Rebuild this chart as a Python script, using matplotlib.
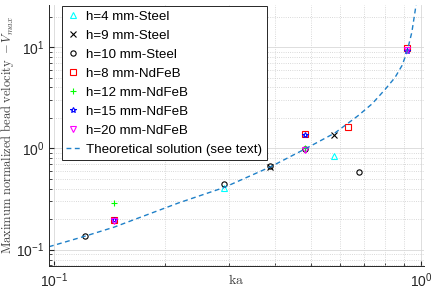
import numpy as np
import matplotlib
matplotlib.use('Agg')
import matplotlib.pyplot as plt

plt.rcParams['font.family'] = ['Liberation Sans', 'DejaVu Sans']
plt.rcParams['mathtext.fontset'] = 'cm'

# ---------------------------------------------------------------------
# measured points (read off the figure)
# ---------------------------------------------------------------------
ka_h4_steel = [0.290, 0.581]
v_h4_steel = [0.406, 0.843]

ka_h9_steel = [0.388, 0.581]
v_h9_steel = [0.660, 1.36]

ka_h10_steel = [0.1213, 0.290, 0.388, 0.483, 0.680]
v_h10_steel = [0.136, 0.445, 0.665, 0.985, 0.585]

ka_h8_ndfeb = [0.1456, 0.483, 0.634, 0.917]
v_h8_ndfeb = [0.196, 1.38, 1.62, 9.8]

ka_h12_ndfeb = [0.1456, 0.483, 0.917]
v_h12_ndfeb = [0.289, 1.00, 9.4]

ka_h15_ndfeb = [0.1456, 0.483, 0.917]
v_h15_ndfeb = [0.196, 1.36, 9.1]

ka_h20_ndfeb = [0.1456, 0.483, 0.917]
v_h20_ndfeb = [0.190, 0.97, 9.3]

# theoretical curve
ka_theory = [0.0967, 0.1213, 0.1456, 0.218, 0.290, 0.388, 0.483, 0.583,
             0.674, 0.736, 0.798, 0.850, 0.889, 0.917, 0.945, 0.971]
v_theory = [0.107, 0.136, 0.167, 0.289, 0.410, 0.655, 0.986, 1.42,
            2.10, 2.75, 3.80, 5.0, 6.6, 9.0, 14.0, 26.5]

series = [
    ('h=4 mm-Steel', ka_h4_steel, v_h4_steel, '^', (0, 1, 1)),
    ('h=9 mm-Steel', ka_h9_steel, v_h9_steel, 'x', 'k'),
    ('h=10 mm-Steel', ka_h10_steel, v_h10_steel, 'o', 'k'),
    ('h=8 mm-NdFeB', ka_h8_ndfeb, v_h8_ndfeb, 's', (1, 0, 0)),
    ('h=12 mm-NdFeB', ka_h12_ndfeb, v_h12_ndfeb, '+', (0, 1, 0)),
    ('h=15 mm-NdFeB', ka_h15_ndfeb, v_h15_ndfeb, '*', (0, 0, 1)),
    ('h=20 mm-NdFeB', ka_h20_ndfeb, v_h20_ndfeb, 'v', (1, 0, 1)),
]

fig = plt.figure(figsize=(4.36, 2.99), dpi=100)
ax = fig.add_axes([49 / 436, 1 - 265.7 / 299, 375 / 436, 261.2 / 299])

for label, x, y, m, c in series:
    ax.plot(x, y, linestyle='none', marker=m, markersize=3.8, markeredgewidth=0.8,
            markerfacecolor='none', color=c, label=label)

ax.plot(ka_theory, v_theory, linestyle=(0, (3.5, 2.5)), linewidth=1.0,
        color='#1f80c8', label='Theoretical solution (see text)')

ax.set_xscale('log')
ax.set_yscale('log')
ax.set_xlim(0.0967, 1.02)
ax.set_ylim(0.0695, 26.3)

ax.grid(True, which='major', color='#d8d8d8', linewidth=0.6, linestyle='-')
ax.grid(True, which='minor', color='#cccccc', linewidth=0.6, linestyle=':')
ax.set_axisbelow(True)

for s in ('top', 'right'):
    ax.spines[s].set_visible(False)
for s in ('left', 'bottom'):
    ax.spines[s].set_color('#262626')
    ax.spines[s].set_linewidth(0.7)

ax.tick_params(which='both', direction='in', colors='#262626', labelsize=10)
ax.tick_params(which='major', length=3.5)
ax.tick_params(which='minor', length=2)
ax.tick_params(axis='x', pad=4)
ax.yaxis.set_minor_formatter(matplotlib.ticker.NullFormatter())
ax.xaxis.set_minor_formatter(matplotlib.ticker.NullFormatter())

ax.set_xlabel(r'$\mathrm{ka}$', fontsize=10, color='#404040', labelpad=-12)
ax.set_ylabel(r'$\mathrm{Maximum\ normalized\ bead\ velocity\ -}V_{max}$',
              fontsize=9.0, color='#404040', labelpad=0)

leg = ax.legend(loc='upper left', bbox_to_anchor=(0.03, 1.0), fontsize=9.6,
                frameon=True, fancybox=False, framealpha=1, edgecolor='#262626',
                handlelength=1.0, handletextpad=0.5, labelspacing=0.5,
                borderpad=0.35, borderaxespad=0.1)
leg.get_frame().set_linewidth(0.7)

fig.savefig('out.png', dpi=100)
